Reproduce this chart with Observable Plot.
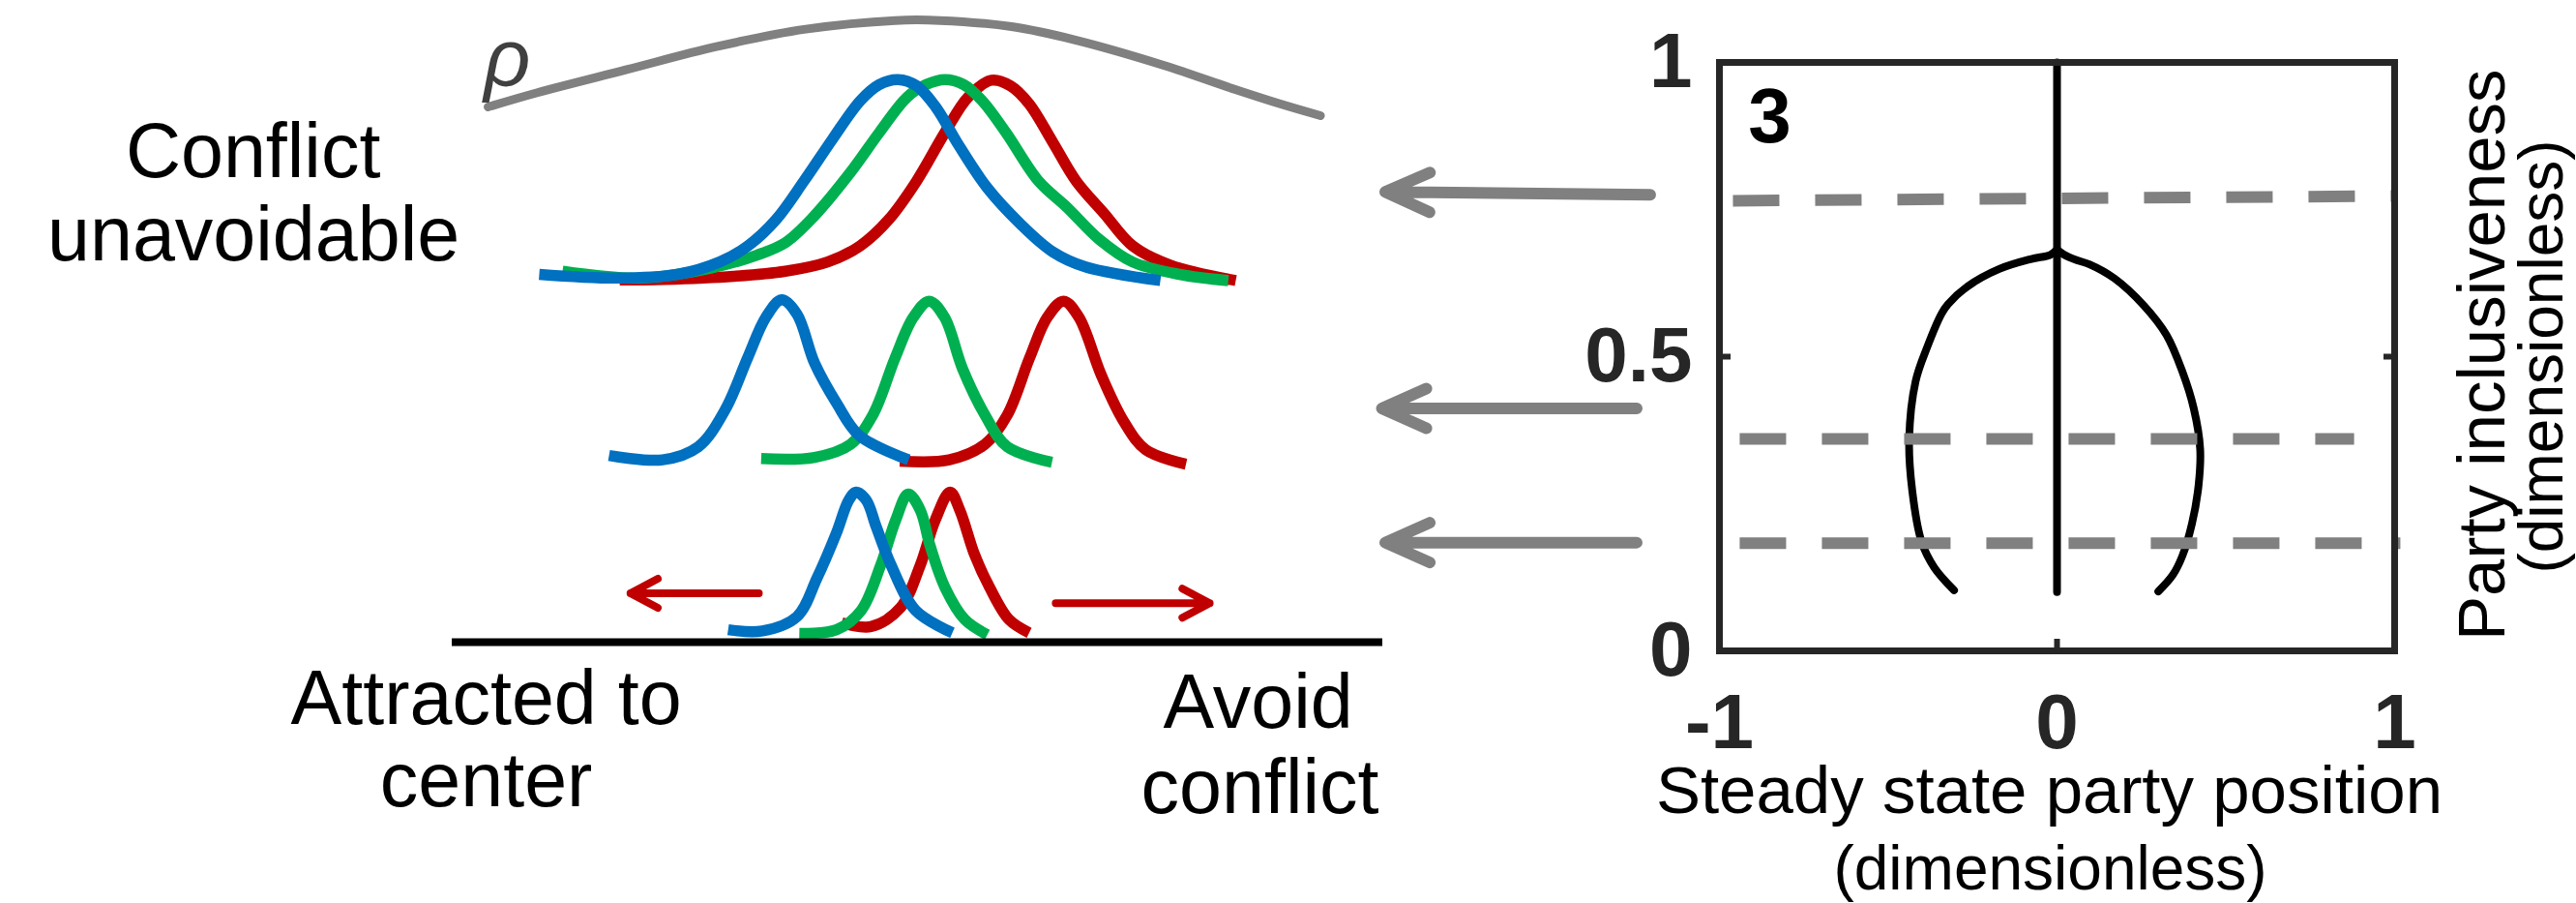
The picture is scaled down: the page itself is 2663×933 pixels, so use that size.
<!DOCTYPE html>
<html>
<head>
<meta charset="utf-8">
<script src="https://cdn.jsdelivr.net/npm/d3@7"></script>
<script src="https://cdn.jsdelivr.net/npm/@observablehq/plot@0.6"></script>
<style>
  html, body { margin: 0; padding: 0; background: #fff; }
  #fig { position: relative; width: 2663px; height: 933px; overflow: hidden; background: #fff;
         font-family: "Liberation Sans", Arial, sans-serif; }
  #fig > svg { position: absolute; top: 0; }
  #fig > svg.left-panel { left: 0px; }
  #fig > svg.right-panel { left: 1400px; }
</style>
</head>
<body>
<div id="fig"></div>
<script>
// ---------- LEFT PANEL (schematic) : x = position on the opinion axis (-1 … 1), y = height above the baseline ----------
const rhoCurve = [[-0.923,0.860],[-0.817,0.883],[-0.625,0.920],[-0.432,0.957],[-0.240,0.985],[-0.048,0.999],
  [0.048,0.999],[0.202,0.989],[0.337,0.968],[0.529,0.927],[0.683,0.888],[0.779,0.865],[0.866,0.846]];

const topRed = [[-0.640,0.582],[-0.546,0.583],[-0.395,0.588],[-0.284,0.596],[-0.193,0.611],[-0.123,0.637],[-0.062,0.679],
  [-0.002,0.741],[0.059,0.819],[0.109,0.876],[0.159,0.903],[0.200,0.894],[0.240,0.865],[0.291,0.803],[0.341,0.741],
  [0.401,0.689],[0.462,0.637],[0.543,0.606],[0.684,0.581]];
const topGreen = [[-0.763,0.596],[-0.597,0.585],[-0.445,0.601],[-0.345,0.622],[-0.284,0.642],[-0.223,0.684],[-0.143,0.756],
  [-0.082,0.819],[-0.022,0.876],[0.019,0.896],[0.059,0.904],[0.099,0.896],[0.139,0.870],[0.190,0.819],[0.260,0.741],
  [0.321,0.699],[0.391,0.647],[0.462,0.611],[0.563,0.591],[0.668,0.581]];
const topBlue = [[-0.813,0.591],[-0.647,0.585],[-0.516,0.591],[-0.425,0.611],[-0.364,0.637],[-0.304,0.679],[-0.244,0.741],
  [-0.183,0.808],[-0.123,0.870],[-0.082,0.896],[-0.042,0.904],[-0.002,0.894],[0.039,0.860],[0.089,0.798],[0.150,0.730],
  [0.220,0.673],[0.291,0.627],[0.361,0.603],[0.522,0.581]];

const midRed = [[-0.038,0.291],[0.068,0.293],[0.145,0.318],[0.193,0.365],[0.241,0.457],[0.279,0.522],[0.314,0.548],
  [0.347,0.522],[0.395,0.429],[0.443,0.355],[0.491,0.309],[0.577,0.286]];
const midGreen = [[-0.336,0.295],[-0.221,0.297],[-0.144,0.318],[-0.096,0.365],[-0.048,0.457],[-0.009,0.522],[0.025,0.548],
  [0.058,0.522],[0.097,0.439],[0.145,0.365],[0.193,0.314],[0.289,0.289]];
const midBlue = [[-0.663,0.300],[-0.548,0.293],[-0.471,0.314],[-0.413,0.374],[-0.365,0.457],[-0.326,0.522],[-0.292,0.550],
  [-0.259,0.527],[-0.221,0.448],[-0.173,0.383],[-0.125,0.332],[-0.019,0.293]];

const lowRed = [[-0.163,0.031],[-0.100,0.025],[-0.036,0.056],[0.006,0.124],[0.038,0.196],[0.070,0.241],[0.091,0.212],
  [0.123,0.140],[0.155,0.088],[0.197,0.036],[0.240,0.015]];
const lowGreen = [[-0.254,0.014],[-0.174,0.020],[-0.121,0.051],[-0.079,0.124],[-0.047,0.196],[-0.020,0.238],[0.006,0.212],
  [0.027,0.155],[0.059,0.088],[0.102,0.036],[0.150,0.012]];
const lowBlue = [[-0.407,0.020],[-0.333,0.018],[-0.259,0.041],[-0.216,0.103],[-0.174,0.176],[-0.148,0.228],[-0.132,0.241],
  [-0.110,0.228],[-0.089,0.186],[-0.057,0.124],[-0.004,0.051],[0.075,0.015]];

const driftArrows = [
  {x1: -0.341, y1: 0.0785, x2: -0.617, y2: 0.0785},
  {x1: 0.297, y1: 0.0627, x2: 0.628, y2: 0.0627}
];

const leftLabels = [
  {text: "Conflict", x: -1.428, y: 0.748},
  {text: "unavoidable", x: -1.427, y: 0.6135},
  {text: "Attracted to", x: -0.927, y: -0.131},
  {text: "center", x: -0.927, y: -0.263},
  {text: "Avoid", x: 0.732, y: -0.137},
  {text: "conflict", x: 0.736, y: -0.275}
];
const rhoLabel = [{text: "ρ", x: -0.882, y: 0.894}];

// ---------- RIGHT PANEL (bifurcation diagram) ----------
const xTicks = [-1, 0, 1];
const yTicks = [0, 0.5, 1];
const centerBranch = [[0, 0.10], [0, 1.0]];
const leftBranch = [[0,0.682],[-0.02,0.673],[-0.076,0.666],[-0.171,0.649],[-0.266,0.619],[-0.323,0.589],[-0.342,0.573],
  [-0.384,0.517],[-0.419,0.458],[-0.438,0.359],[-0.429,0.273],[-0.401,0.185],[-0.364,0.142],[-0.305,0.103]];
const rightBranch = [[0,0.682],[0.019,0.674],[0.058,0.664],[0.096,0.657],[0.17,0.633],[0.257,0.587],[0.324,0.537],
  [0.371,0.475],[0.405,0.412],[0.424,0.343],[0.419,0.280],[0.400,0.217],[0.371,0.161],[0.343,0.129],[0.300,0.101]];
const sliceTop = [[-0.960,0.765],[1.0,0.773]];
const sliceMid = [[-0.940,0.360],[0.880,0.360]];
const sliceLow = [[-0.940,0.183],[1.017,0.183]];
const pointers = [
  {x1: -1.205, y1: 0.775, x2: -1.99, y2: 0.780},
  {x1: -1.245, y1: 0.412, x2: -2.00, y2: 0.412},
  {x1: -1.245, y1: 0.184, x2: -1.99, y2: 0.184}
];
const rightLabels = [
  {text: "Steady state party position", x: -0.023, y: -0.276, size: 69, rotate: 0},
  {text: "(dimensionless)", x: -0.02, y: -0.405, size: 64, rotate: 0},
  {text: "Party inclusiveness", x: 1.324, y: 0.503, size: 69, rotate: -90},
  {text: "(dimensionless)", x: 1.497, y: 0.5, size: 64, rotate: -90}
];
const panelTag = [{text: "3", x: -0.851, y: 0.865}];

const BLUE = "#0070C0", GREEN = "#00B050", RED = "#C00000", GREY = "#808080";
const FONT = "Liberation Sans, Arial, sans-serif";
const px = d => d[0], py = d => d[1];

const densityLine = (data, color) => Plot.line(data, {
  x: px, y: py, stroke: color, strokeWidth: 11.5, strokeLinecap: "butt", strokeLinejoin: "round", curve: "catmull-rom"
});

const left = Plot.plot({
  className: "left-panel",
  width: 1450, height: 933,
  marginLeft: 467, marginRight: 21, marginTop: 20, marginBottom: 270,
  x: {domain: [-1, 1], axis: null},
  y: {domain: [0, 1], axis: null},
  style: {background: "transparent", fontFamily: FONT, overflow: "visible"},
  marks: [
    Plot.line(rhoCurve, {x: px, y: py, stroke: GREY, strokeWidth: 9, curve: "catmull-rom"}),
    Plot.text(rhoLabel, {x: "x", y: "y", text: "text", fontSize: 84, fontStyle: "italic", fill: "#404040", lineAnchor: "bottom"}),
    densityLine(topRed, RED), densityLine(topGreen, GREEN), densityLine(topBlue, BLUE),
    densityLine(midRed, RED), densityLine(midGreen, GREEN), densityLine(midBlue, BLUE),
    densityLine(lowRed, RED), densityLine(lowGreen, GREEN), densityLine(lowBlue, BLUE),
    Plot.ruleY([0], {stroke: "black", strokeWidth: 8}),
    Plot.arrow(driftArrows, {x1: "x1", y1: "y1", x2: "x2", y2: "y2", stroke: RED, strokeWidth: 8, headLength: 6, headAngle: 56}),
    Plot.text(leftLabels, {x: "x", y: "y", text: "text", fontSize: 79, fill: "black", lineAnchor: "bottom", textAnchor: "middle"})
  ]
});

const right = Plot.plot({
  className: "right-panel",
  width: 1263, height: 933,
  marginLeft: 377, marginRight: 188, marginTop: 64, marginBottom: 261,
  x: {domain: [-1, 1]},
  y: {domain: [0, 1]},
  style: {background: "transparent", fontFamily: FONT},
  marks: [
    Plot.line(centerBranch, {x: px, y: py, stroke: "black", strokeWidth: 8}),
    Plot.line(leftBranch, {x: px, y: py, stroke: "black", strokeWidth: 8, curve: "catmull-rom"}),
    Plot.line(rightBranch, {x: px, y: py, stroke: "black", strokeWidth: 8, curve: "catmull-rom"}),
    ...[sliceTop, sliceMid, sliceLow].map(s => Plot.line(s, {x: px, y: py, stroke: GREY, strokeWidth: 12,
      strokeDasharray: "48,37", strokeLinecap: "butt"})),
    Plot.frame({stroke: "#262626", strokeWidth: 7}),
    Plot.axisX({ticks: xTicks, tickSize: -12, tickPadding: 56, tickFormat: d => String(d), label: null,
      fontSize: 80, fontWeight: "bold", color: "#262626", strokeWidth: 6}),
    Plot.axisY({ticks: yTicks, tickSize: -12, tickPadding: 40, tickFormat: d => String(d), label: null,
      fontSize: 80, fontWeight: "bold", color: "#262626", strokeWidth: 6}),
    Plot.axisY({anchor: "right", ticks: [0.5], tickSize: -12, tickFormat: () => "", label: null,
      color: "#262626", strokeWidth: 6}),
    Plot.arrow(pointers, {x1: "x1", y1: "y1", x2: "x2", y2: "y2", stroke: GREY, strokeWidth: 12, headLength: 6.3, headAngle: 48}),
    Plot.text(panelTag, {x: "x", y: "y", text: "text", fontSize: 80, fontWeight: "bold", fill: "black", lineAnchor: "bottom"}),
    Plot.text(rightLabels, {x: "x", y: "y", text: "text", fontSize: d => d.size, rotate: "rotate", fill: "black",
      lineAnchor: "bottom", textAnchor: "middle"})
  ]
});

const fig = document.getElementById("fig");
fig.appendChild(left);
fig.appendChild(right);
</script>
</body>
</html>
